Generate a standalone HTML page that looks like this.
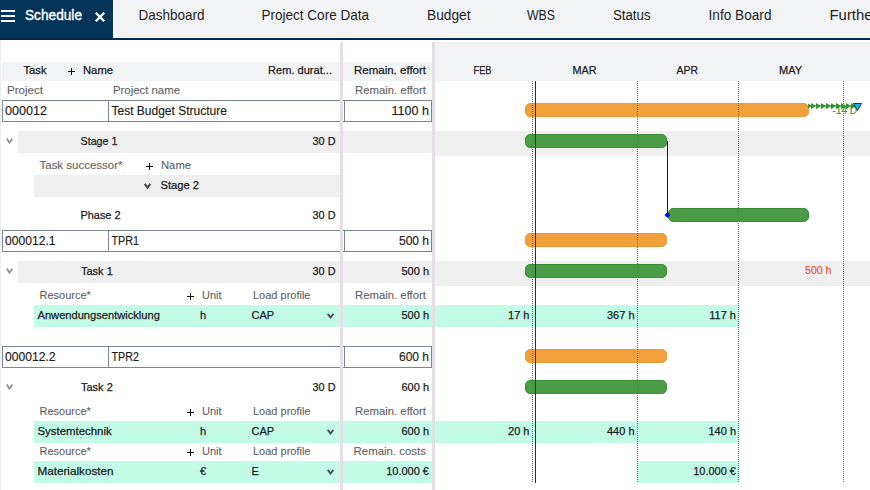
<!DOCTYPE html>
<html><head><meta charset="utf-8"><style>
html,body{margin:0;padding:0;background:#fff;width:870px;height:490px;overflow:hidden}
text{font-family:"Liberation Sans", sans-serif}
</style></head><body>
<svg width="870" height="490" viewBox="0 0 870 490" style="display:block;font-family:&quot;Liberation Sans&quot;, sans-serif"><rect x="0" y="0" width="870" height="490" fill="#ffffff"/><rect x="0" y="0" width="870" height="37" fill="#f2f3f5"/><rect x="0" y="0" width="113" height="40" fill="#03355b"/><rect x="113" y="0" width="1" height="38" fill="#ffffff"/><rect x="0" y="38" width="870" height="2" fill="#022a4f"/><rect x="1" y="10" width="14" height="2" fill="#ffffff"/><rect x="1" y="15" width="14" height="2" fill="#ffffff"/><rect x="1" y="20" width="14" height="2" fill="#ffffff"/><text x="25" y="20" font-size="14" fill="#ffffff" stroke="#ffffff" stroke-width="0.35" textLength="57" lengthAdjust="spacingAndGlyphs">Schedule</text><path d="M95.8 12.8L104.2 21.2M104.2 12.8L95.8 21.2" stroke="#fff" stroke-width="2.3" fill="none"/><text x="138.5" y="20" font-size="14" fill="#1e1e1e" textLength="66" lengthAdjust="spacingAndGlyphs">Dashboard</text><text x="261.5" y="20" font-size="14" fill="#1e1e1e" textLength="107.5" lengthAdjust="spacingAndGlyphs">Project Core Data</text><text x="427" y="20" font-size="14" fill="#1e1e1e" textLength="43.5" lengthAdjust="spacingAndGlyphs">Budget</text><text x="527" y="20" font-size="14" fill="#1e1e1e" textLength="28" lengthAdjust="spacingAndGlyphs">WBS</text><text x="613" y="20" font-size="14" fill="#1e1e1e" textLength="37.5" lengthAdjust="spacingAndGlyphs">Status</text><text x="708.5" y="20" font-size="14" fill="#1e1e1e" textLength="63" lengthAdjust="spacingAndGlyphs">Info Board</text><text x="829.5" y="20" font-size="14" fill="#1e1e1e" textLength="48" lengthAdjust="spacingAndGlyphs">Further</text><rect x="0" y="40" width="1" height="450" fill="#eeeeee"/><rect x="2" y="62" width="338" height="19" fill="#f2f3f5"/><rect x="343" y="62" width="89" height="19" fill="#f2f3f5"/><rect x="435" y="42" width="435" height="39" fill="#f2f3f5"/><text x="23.5" y="74" font-size="11" fill="#1b1b1b" stroke="#1b1b1b" stroke-width="0.25" textLength="23" lengthAdjust="spacingAndGlyphs">Task</text><rect x="68" y="71" width="7" height="1" fill="#111"/><rect x="71" y="68" width="1" height="7" fill="#111"/><text x="83" y="74" font-size="11" fill="#1b1b1b" stroke="#1b1b1b" stroke-width="0.25" textLength="30" lengthAdjust="spacingAndGlyphs">Name</text><text x="268" y="74" font-size="11" fill="#1b1b1b" stroke="#1b1b1b" stroke-width="0.25" textLength="64" lengthAdjust="spacingAndGlyphs">Rem. durat...</text><text x="354" y="74" font-size="11" fill="#1b1b1b" stroke="#1b1b1b" stroke-width="0.25" textLength="72" lengthAdjust="spacingAndGlyphs">Remain. effort</text><text x="473.5" y="74" font-size="11" fill="#1b1b1b" stroke="#1b1b1b" stroke-width="0.25" textLength="18" lengthAdjust="spacingAndGlyphs">FEB</text><text x="572.5" y="74" font-size="11" fill="#1b1b1b" stroke="#1b1b1b" stroke-width="0.25" textLength="24" lengthAdjust="spacingAndGlyphs">MAR</text><text x="676.5" y="74" font-size="11" fill="#1b1b1b" stroke="#1b1b1b" stroke-width="0.25" textLength="21.5" lengthAdjust="spacingAndGlyphs">APR</text><text x="779" y="74" font-size="11" fill="#1b1b1b" stroke="#1b1b1b" stroke-width="0.25" textLength="23" lengthAdjust="spacingAndGlyphs">MAY</text><rect x="18" y="131" width="322" height="22" fill="#efefef"/><rect x="343" y="131" width="89" height="22" fill="#efefef"/><rect x="435" y="131" width="435" height="25" fill="#efefef"/><rect x="34" y="175" width="306" height="22" fill="#efefef"/><rect x="18" y="261" width="322" height="22" fill="#efefef"/><rect x="343" y="261" width="89" height="22" fill="#efefef"/><rect x="435" y="261" width="435" height="25" fill="#efefef"/><rect x="34" y="305" width="306" height="22" fill="#c2fbe6"/><rect x="343" y="305" width="89" height="22" fill="#c2fbe6"/><rect x="435" y="305" width="304" height="22" fill="#c2fbe6"/><rect x="34" y="421" width="306" height="22" fill="#c2fbe6"/><rect x="343" y="421" width="89" height="22" fill="#c2fbe6"/><rect x="435" y="421" width="304" height="22" fill="#c2fbe6"/><rect x="34" y="461" width="306" height="22" fill="#c2fbe6"/><rect x="343" y="461" width="89" height="22" fill="#c2fbe6"/><rect x="637" y="461" width="102" height="22" fill="#c2fbe6"/><text x="7" y="94" font-size="11" fill="#5f5f5f" stroke="#5f5f5f" stroke-width="0.1" textLength="36" lengthAdjust="spacingAndGlyphs">Project</text><text x="113" y="94" font-size="11" fill="#5f5f5f" stroke="#5f5f5f" stroke-width="0.1" textLength="67" lengthAdjust="spacingAndGlyphs">Project name</text><text x="426" y="94" font-size="11" fill="#5f5f5f" stroke="#5f5f5f" stroke-width="0.1" text-anchor="end" textLength="71" lengthAdjust="spacingAndGlyphs">Remain. effort</text><rect x="2.5" y="100.5" width="343" height="21" fill="#fff" stroke="#7b8594" stroke-width="1"/><rect x="108" y="100" width="1" height="21" fill="#7b8594"/><rect x="344.5" y="100.5" width="87" height="21" fill="#fff" stroke="#7b8594" stroke-width="1"/><text x="5" y="115" font-size="12" fill="#1b1b1b" stroke="#1b1b1b" stroke-width="0.15" textLength="42" lengthAdjust="spacingAndGlyphs">000012</text><text x="111.5" y="115" font-size="12" fill="#1b1b1b" stroke="#1b1b1b" stroke-width="0.15">Test Budget Structure</text><text x="429" y="115" font-size="12" fill="#1b1b1b" stroke="#1b1b1b" stroke-width="0.15" text-anchor="end" textLength="37.5" lengthAdjust="spacingAndGlyphs">1100 h</text><polyline points="6.7,138.6 9.5,142.7 12.3,138.6" fill="none" stroke="#8e8e8e" stroke-width="1.7"/><text x="80.5" y="145" font-size="11" fill="#1b1b1b" stroke="#1b1b1b" stroke-width="0.25" textLength="37" lengthAdjust="spacingAndGlyphs">Stage 1</text><text x="335.5" y="145" font-size="11" fill="#1b1b1b" stroke="#1b1b1b" stroke-width="0.25" text-anchor="end" textLength="23" lengthAdjust="spacingAndGlyphs">30 D</text><text x="39.5" y="169" font-size="11" fill="#5f5f5f" stroke="#5f5f5f" stroke-width="0.1" textLength="83" lengthAdjust="spacingAndGlyphs">Task successor*</text><rect x="146" y="166" width="7" height="1" fill="#111"/><rect x="149" y="163" width="1" height="7" fill="#111"/><text x="161" y="169" font-size="11" fill="#5f5f5f" stroke="#5f5f5f" stroke-width="0.1" textLength="30" lengthAdjust="spacingAndGlyphs">Name</text><polyline points="144.7,183.9 147.5,187.70000000000002 150.3,183.9" fill="none" stroke="#4a4a4a" stroke-width="2.0"/><text x="160.5" y="189" font-size="11" fill="#1b1b1b" stroke="#1b1b1b" stroke-width="0.25" textLength="38.5" lengthAdjust="spacingAndGlyphs">Stage 2</text><text x="80.5" y="219" font-size="11" fill="#1b1b1b" stroke="#1b1b1b" stroke-width="0.25" textLength="40" lengthAdjust="spacingAndGlyphs">Phase 2</text><text x="335.5" y="219" font-size="11" fill="#1b1b1b" stroke="#1b1b1b" stroke-width="0.25" text-anchor="end" textLength="23" lengthAdjust="spacingAndGlyphs">30 D</text><rect x="2.5" y="230.5" width="343" height="21" fill="#fff" stroke="#7b8594" stroke-width="1"/><rect x="108" y="230" width="1" height="21" fill="#7b8594"/><rect x="344.5" y="230.5" width="87" height="21" fill="#fff" stroke="#7b8594" stroke-width="1"/><text x="5" y="245" font-size="12" fill="#1b1b1b" stroke="#1b1b1b" stroke-width="0.15" textLength="50.5" lengthAdjust="spacingAndGlyphs">000012.1</text><text x="111.5" y="245" font-size="12" fill="#1b1b1b" stroke="#1b1b1b" stroke-width="0.15" textLength="27.5" lengthAdjust="spacingAndGlyphs">TPR1</text><text x="429" y="245" font-size="12" fill="#1b1b1b" stroke="#1b1b1b" stroke-width="0.15" text-anchor="end">500 h</text><polyline points="6.7,268.6 9.5,272.70000000000005 12.3,268.6" fill="none" stroke="#8e8e8e" stroke-width="1.7"/><text x="81" y="275" font-size="11" fill="#1b1b1b" stroke="#1b1b1b" stroke-width="0.25">Task 1</text><text x="335.5" y="275" font-size="11" fill="#1b1b1b" stroke="#1b1b1b" stroke-width="0.25" text-anchor="end" textLength="23" lengthAdjust="spacingAndGlyphs">30 D</text><text x="429" y="275" font-size="11" fill="#1b1b1b" stroke="#1b1b1b" stroke-width="0.25" text-anchor="end">500 h</text><text x="39.5" y="299" font-size="11" fill="#5f5f5f" stroke="#5f5f5f" stroke-width="0.1">Resource*</text><rect x="187" y="296" width="7" height="1" fill="#111"/><rect x="190" y="293" width="1" height="7" fill="#111"/><text x="202" y="299" font-size="11" fill="#5f5f5f" stroke="#5f5f5f" stroke-width="0.1">Unit</text><text x="253" y="299" font-size="11" fill="#5f5f5f" stroke="#5f5f5f" stroke-width="0.1">Load profile</text><text x="426" y="299" font-size="11" fill="#5f5f5f" stroke="#5f5f5f" stroke-width="0.1" text-anchor="end" textLength="71" lengthAdjust="spacingAndGlyphs">Remain. effort</text><text x="37.5" y="319" font-size="11" fill="#1b1b1b" stroke="#1b1b1b" stroke-width="0.25" textLength="122.4" lengthAdjust="spacingAndGlyphs">Anwendungsentwicklung</text><text x="200" y="319" font-size="11" fill="#1b1b1b" stroke="#1b1b1b" stroke-width="0.25">h</text><text x="251.5" y="319" font-size="11" fill="#1b1b1b" stroke="#1b1b1b" stroke-width="0.25">CAP</text><polyline points="327.7,313.9 330.5,317.5 333.3,313.9" fill="none" stroke="#4f4a50" stroke-width="1.9"/><text x="429" y="319" font-size="11" fill="#1b1b1b" stroke="#1b1b1b" stroke-width="0.25" text-anchor="end">500 h</text><rect x="2.5" y="346.5" width="343" height="21" fill="#fff" stroke="#7b8594" stroke-width="1"/><rect x="108" y="346" width="1" height="21" fill="#7b8594"/><rect x="344.5" y="346.5" width="87" height="21" fill="#fff" stroke="#7b8594" stroke-width="1"/><text x="5" y="361" font-size="12" fill="#1b1b1b" stroke="#1b1b1b" stroke-width="0.15" textLength="50.5" lengthAdjust="spacingAndGlyphs">000012.2</text><text x="111.5" y="361" font-size="12" fill="#1b1b1b" stroke="#1b1b1b" stroke-width="0.15" textLength="27.5" lengthAdjust="spacingAndGlyphs">TPR2</text><text x="429" y="361" font-size="12" fill="#1b1b1b" stroke="#1b1b1b" stroke-width="0.15" text-anchor="end">600 h</text><polyline points="6.7,384.6 9.5,388.70000000000005 12.3,384.6" fill="none" stroke="#8e8e8e" stroke-width="1.7"/><text x="81" y="391" font-size="11" fill="#1b1b1b" stroke="#1b1b1b" stroke-width="0.25">Task 2</text><text x="335.5" y="391" font-size="11" fill="#1b1b1b" stroke="#1b1b1b" stroke-width="0.25" text-anchor="end" textLength="23" lengthAdjust="spacingAndGlyphs">30 D</text><text x="429" y="391" font-size="11" fill="#1b1b1b" stroke="#1b1b1b" stroke-width="0.25" text-anchor="end">600 h</text><text x="39.5" y="415" font-size="11" fill="#5f5f5f" stroke="#5f5f5f" stroke-width="0.1">Resource*</text><rect x="187" y="412" width="7" height="1" fill="#111"/><rect x="190" y="409" width="1" height="7" fill="#111"/><text x="202" y="415" font-size="11" fill="#5f5f5f" stroke="#5f5f5f" stroke-width="0.1">Unit</text><text x="253" y="415" font-size="11" fill="#5f5f5f" stroke="#5f5f5f" stroke-width="0.1">Load profile</text><text x="426" y="415" font-size="11" fill="#5f5f5f" stroke="#5f5f5f" stroke-width="0.1" text-anchor="end" textLength="71" lengthAdjust="spacingAndGlyphs">Remain. effort</text><text x="37.5" y="435" font-size="11" fill="#1b1b1b" stroke="#1b1b1b" stroke-width="0.25" textLength="74.2" lengthAdjust="spacingAndGlyphs">Systemtechnik</text><text x="200" y="435" font-size="11" fill="#1b1b1b" stroke="#1b1b1b" stroke-width="0.25">h</text><text x="251.5" y="435" font-size="11" fill="#1b1b1b" stroke="#1b1b1b" stroke-width="0.25">CAP</text><polyline points="327.7,429.9 330.5,433.5 333.3,429.9" fill="none" stroke="#4f4a50" stroke-width="1.9"/><text x="429" y="435" font-size="11" fill="#1b1b1b" stroke="#1b1b1b" stroke-width="0.25" text-anchor="end">600 h</text><text x="39.5" y="455" font-size="11" fill="#5f5f5f" stroke="#5f5f5f" stroke-width="0.1">Resource*</text><rect x="187" y="452" width="7" height="1" fill="#111"/><rect x="190" y="449" width="1" height="7" fill="#111"/><text x="202" y="455" font-size="11" fill="#5f5f5f" stroke="#5f5f5f" stroke-width="0.1">Unit</text><text x="253" y="455" font-size="11" fill="#5f5f5f" stroke="#5f5f5f" stroke-width="0.1">Load profile</text><text x="426" y="455" font-size="11" fill="#5f5f5f" stroke="#5f5f5f" stroke-width="0.1" text-anchor="end" textLength="72.5" lengthAdjust="spacingAndGlyphs">Remain. costs</text><text x="37.5" y="475" font-size="11" fill="#1b1b1b" stroke="#1b1b1b" stroke-width="0.25" textLength="76" lengthAdjust="spacingAndGlyphs">Materialkosten</text><text x="200" y="475" font-size="11" fill="#1b1b1b" stroke="#1b1b1b" stroke-width="0.25">€</text><text x="251.5" y="475" font-size="11" fill="#1b1b1b" stroke="#1b1b1b" stroke-width="0.25">E</text><polyline points="327.7,469.9 330.5,473.5 333.3,469.9" fill="none" stroke="#4f4a50" stroke-width="1.9"/><text x="429" y="475" font-size="11" fill="#1b1b1b" stroke="#1b1b1b" stroke-width="0.25" text-anchor="end">10.000 €</text><rect x="525.5" y="103.5" width="283" height="13" rx="4.5" fill="#f2a03b" stroke="#e99a35" stroke-width="1"/><rect x="525.5" y="134.5" width="141" height="13" rx="4.5" fill="#4a9b46" stroke="#3a8f38" stroke-width="1"/><rect x="668.5" y="208.5" width="140" height="13" rx="4.5" fill="#4a9b46" stroke="#3a8f38" stroke-width="1"/><rect x="525.5" y="233.5" width="141" height="13" rx="4.5" fill="#f2a03b" stroke="#e99a35" stroke-width="1"/><rect x="525.5" y="264.5" width="141" height="13" rx="4.5" fill="#4a9b46" stroke="#3a8f38" stroke-width="1"/><rect x="525.5" y="349.5" width="141" height="13" rx="4.5" fill="#f2a03b" stroke="#e99a35" stroke-width="1"/><rect x="525.5" y="380.5" width="141" height="13" rx="4.5" fill="#4a9b46" stroke="#3a8f38" stroke-width="1"/><rect x="667" y="141" width="1" height="74" fill="#0000f5"/><path d="M667.5 212L670.5 215L667.5 218L664.5 215Z" fill="#0000f5"/><text x="832.5" y="114" font-size="10" fill="#2e9a2e" stroke="#2e9a2e" stroke-width="0.15">-14 D</text><line x1="808" y1="106" x2="855" y2="106" stroke="#2e952e" stroke-width="1"/><path d="M808 103.5L812 106L808 108.5Z" fill="#2e952e"/><path d="M811 103L816 106L811 109.2Z" fill="#2e952e"/><path d="M816 103L821 106L816 109.2Z" fill="#2e952e"/><path d="M821 103L826 106L821 109.2Z" fill="#2e952e"/><path d="M826 103L831 106L826 109.2Z" fill="#2e952e"/><path d="M831 103L836 106L831 109.2Z" fill="#2e952e"/><path d="M836 103L841 106L836 109.2Z" fill="#2e952e"/><path d="M841 103L846 106L841 109.2Z" fill="#2e952e"/><path d="M846 103L851 106L846 109.2Z" fill="#2e952e"/><path d="M851 103L856 106L851 109.2Z" fill="#2e952e"/><path d="M853.5 103.5L861.5 103.5L857.5 110.5Z" fill="#10b4f0" stroke="#333" stroke-width="1"/><line x1="532.5" y1="81" x2="532.5" y2="483" stroke="#5b6a96" stroke-width="1" stroke-dasharray="1 1"/><line x1="637.5" y1="81" x2="637.5" y2="483" stroke="#5b6a96" stroke-width="1" stroke-dasharray="1 1"/><line x1="738.5" y1="81" x2="738.5" y2="483" stroke="#5b6a96" stroke-width="1" stroke-dasharray="1 1"/><line x1="843.5" y1="81" x2="843.5" y2="483" stroke="#5b6a96" stroke-width="1" stroke-dasharray="1 1"/><rect x="535" y="81" width="1" height="402" fill="#8a0a0a"/><text x="831.5" y="274" font-size="11" fill="#ea4a1c" stroke="#ea4a1c" stroke-width="0.1" text-anchor="end" textLength="26.5" lengthAdjust="spacingAndGlyphs">500 h</text><text x="529.5" y="319" font-size="11" fill="#1b1b1b" stroke="#1b1b1b" stroke-width="0.25" text-anchor="end">17 h</text><text x="634.5" y="319" font-size="11" fill="#1b1b1b" stroke="#1b1b1b" stroke-width="0.25" text-anchor="end">367 h</text><text x="736" y="319" font-size="11" fill="#1b1b1b" stroke="#1b1b1b" stroke-width="0.25" text-anchor="end">117 h</text><text x="529.5" y="435" font-size="11" fill="#1b1b1b" stroke="#1b1b1b" stroke-width="0.25" text-anchor="end">20 h</text><text x="634.5" y="435" font-size="11" fill="#1b1b1b" stroke="#1b1b1b" stroke-width="0.25" text-anchor="end">440 h</text><text x="736" y="435" font-size="11" fill="#1b1b1b" stroke="#1b1b1b" stroke-width="0.25" text-anchor="end">140 h</text><text x="736" y="475" font-size="11" fill="#1b1b1b" stroke="#1b1b1b" stroke-width="0.25" text-anchor="end">10.000 €</text><rect x="340" y="42" width="3" height="448" fill="#e5dee7"/><rect x="432" y="42" width="3" height="448" fill="#e5dee7"/></svg>
</body></html>
